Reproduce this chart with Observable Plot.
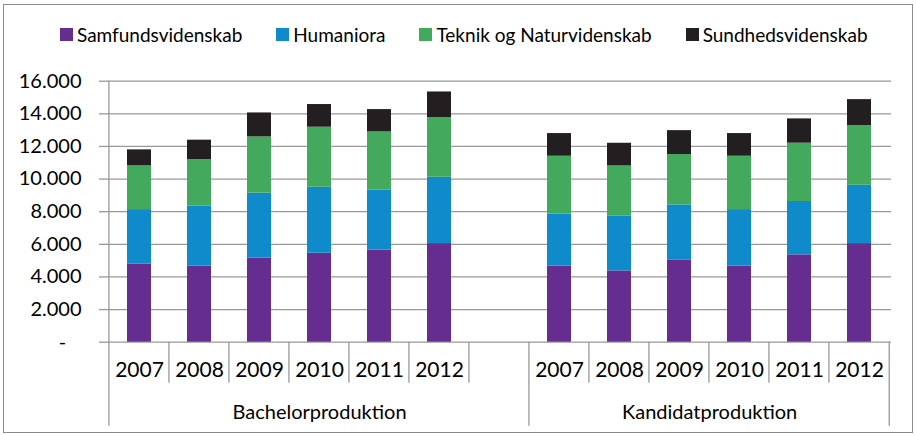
<!DOCTYPE html>
<html>
<head>
<meta charset="utf-8">
<script src="https://cdn.jsdelivr.net/npm/d3@7"></script>
<script src="https://cdn.jsdelivr.net/npm/@observablehq/plot@0.6"></script>
<style>
  html, body { margin: 0; padding: 0; background: #fff; }
  #chart { position: relative; width: 916px; height: 435px; font-family: Lato, sans-serif; overflow: hidden; }
  #frame { position: absolute; left: 3px; top: 4px; width: 910px; height: 429px; border: 1.5px solid #8c8c8c; box-sizing: border-box; }
  #legend { position: absolute; left: 60px; top: 23px; display: flex; align-items: center; font-size: 19px; color: #000; white-space: nowrap; }
  #legend .item { display: flex; align-items: center; margin-right: 34px; }
  #legend .sw { width: 13px; height: 13px; margin-right: 4px; }
  #plot { position: absolute; left: 0; top: 60px; }
</style>
</head>
<body>
<div id="chart">
  <div id="frame"></div>
  <div id="legend"></div>
  <div id="plot"></div>
</div>
<script>
// ---- data ----
const groups = ["Bachelorproduktion", "Kandidatproduktion"];
const years = ["2007", "2008", "2009", "2010", "2011", "2012"];
const series = ["Samfundsvidenskab", "Humaniora", "Teknik og Naturvidenskab", "Sundhedsvidenskab"];
const colors = ["#652d90", "#0f8bcc", "#43a95d", "#231f20"];

const bachSamfund = [4780, 4660, 5150, 5455, 5640, 6045];
const bachHuman   = [3350, 3680, 3985, 4045, 3675, 4065];
const bachTeknik  = [2680, 2860, 3450, 3680, 3575, 3655];
const bachSund    = [980, 1185, 1470, 1390, 1370, 1575];

const kandSamfund = [4660, 4370, 5045, 4660, 5355, 6045];
const kandHuman   = [3185, 3350, 3370, 3470, 3270, 3575];
const kandTeknik  = [3555, 3085, 3085, 3270, 3575, 3655];
const kandSund    = [1390, 1390, 1470, 1390, 1490, 1595];

const yTicks = [0, 2000, 4000, 6000, 8000, 10000, 12000, 14000, 16000];

// ---- build table ----
const bachKeys = years.map(y => "B" + y);
const kandKeys = years.map(y => "K" + y);
const keys = [...bachKeys, "gap", ...kandKeys];

const rows = [];
const bachSeries = [bachSamfund, bachHuman, bachTeknik, bachSund];
const kandSeries = [kandSamfund, kandHuman, kandTeknik, kandSund];
series.forEach((s, si) => {
  years.forEach((y, yi) => {
    rows.push({key: bachKeys[yi], year: y, series: s, value: bachSeries[si][yi]});
    rows.push({key: kandKeys[yi], year: y, series: s, value: kandSeries[si][yi]});
  });
});
const yearLabels = [...bachKeys, ...kandKeys].map(k => ({key: k, year: k.slice(1)}));

// ---- legend ----
const legend = document.getElementById("legend");
series.forEach((s, i) => {
  const item = document.createElement("div");
  item.className = "item";
  const sw = document.createElement("div");
  sw.className = "sw";
  sw.style.background = colors[i];
  const t = document.createElement("span");
  t.textContent = s;
  item.appendChild(sw); item.appendChild(t);
  legend.appendChild(item);
});

// ---- plot ----
const W = 916, H = 375, mL = 107, mR = 25, mT = 20.7, mB = 93.3;
const step = (W - mL - mR) / keys.length;
const gridColor = "#999999";
const loc = d3.formatLocale({decimal: ",", thousands: ".", grouping: [3], currency: ["", ""]});
const fmt = loc.format(",");

function separators(index, scales, values, dims) {
  const x = scales.x, y = scales.y;
  const y0 = y(0);
  const g = d3.create("svg:g").attr("stroke", gridColor).attr("stroke-width", 1.3).attr("fill", "none");
  for (let i = 0; i <= keys.length; i++) {
    const xi = (i < keys.length ? x(keys[i]) : x(keys[keys.length - 1]) + step) - 0.3 * step;
    const long = i === 0 || i === bachKeys.length + 1 || i === keys.length;
    g.append("line").attr("x1", xi).attr("x2", xi)
      .attr("y1", i === 0 ? y(16000) : y0)
      .attr("y2", y0 + (long ? 84 : 41));
  }
  return g.node();
}

const chart = Plot.plot({
  width: W, height: H,
  marginLeft: mL, marginRight: mR, marginTop: mT, marginBottom: mB,
  style: {fontFamily: "Lato, sans-serif", fontSize: "20px", color: "#000", background: "transparent", overflow: "visible"},
  x: {type: "band", domain: keys, paddingInner: 0.6, paddingOuter: 0.3, axis: null},
  y: {domain: [0, 16000], axis: null},
  color: {domain: series, range: colors},
  marks: [
    Plot.gridY(yTicks, {stroke: gridColor, strokeOpacity: 1, strokeWidth: 1.3}),
    Plot.axisY(yTicks, {tickSize: 8, tickPadding: 18, stroke: gridColor, strokeWidth: 1.3, fontSize: 20, fill: "#000",
      tickFormat: d => d === 0 ? "-\u00a0\u00a0\u00a0" : fmt(d), label: null}),
    Plot.barY(rows, {x: "key", y: "value", fill: "series", order: series}),
    separators,
    Plot.text(yearLabels, {x: "key", text: "year", frameAnchor: "bottom", dy: 28, fontSize: 21, fill: "#000", lineAnchor: "middle"}),
    Plot.text([groups[0]], {x: () => bachKeys[3], text: d => d, frameAnchor: "bottom", dy: 70, fontSize: 20, fill: "#000", lineAnchor: "middle"}),
    Plot.text([groups[1]], {x: () => kandKeys[2], text: d => d, frameAnchor: "bottom", dy: 70, dx: step / 2, fontSize: 20, fill: "#000", lineAnchor: "middle"})
  ]
});
document.getElementById("plot").appendChild(chart);
</script>
</body>
</html>
